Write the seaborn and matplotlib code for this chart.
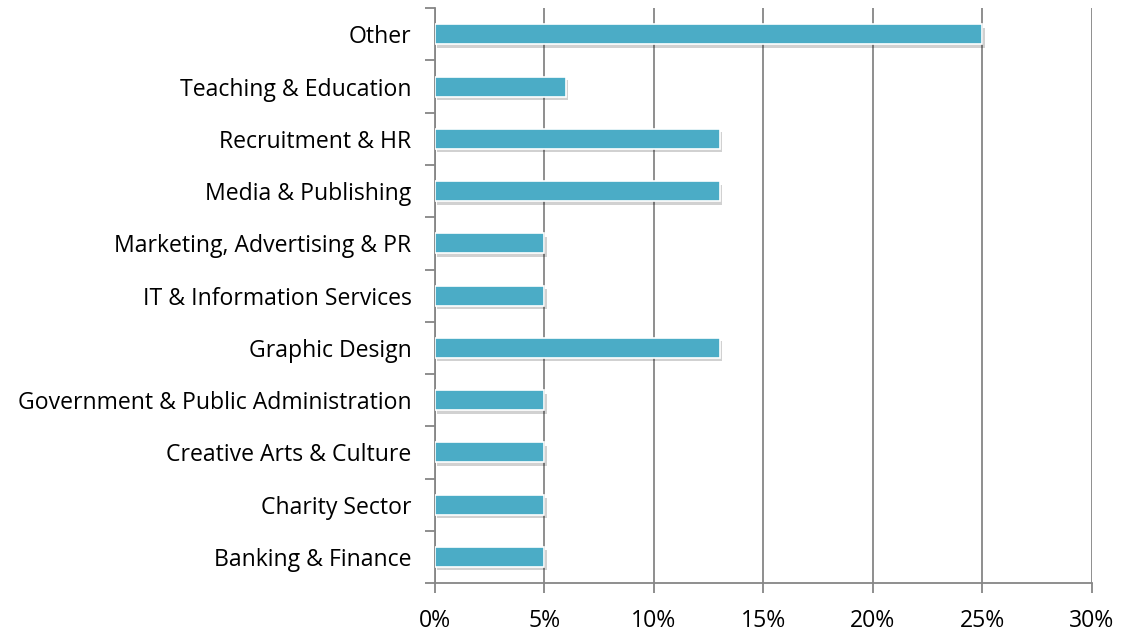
import matplotlib
matplotlib.use("Agg")
import matplotlib.pyplot as plt
import matplotlib.patheffects as pe
from matplotlib.ticker import FixedLocator, PercentFormatter
import seaborn as sns
import pandas as pd

categories = ["Other", "Teaching & Education", "Recruitment & HR", "Media & Publishing",
              "Marketing, Advertising & PR", "IT & Information Services", "Graphic Design",
              "Government & Public Administration", "Creative Arts & Culture",
              "Charity Sector", "Banking & Finance"]
values = [25, 6, 13, 13, 5, 5, 13, 5, 5, 5, 5]
x_ticks = [0, 5, 10, 15, 20, 25, 30]

df = pd.DataFrame({"sector": categories, "pct": values})

sns.set_theme(style="white")
plt.rcParams["font.family"] = ["Open Sans", "DejaVu Sans"]

fig = plt.figure(figsize=(11.24, 6.34), dpi=100)
ax = fig.add_axes([0.387, 0.0804, 0.9715 - 0.387, 0.987 - 0.0804])

sns.barplot(data=df, x="pct", y="sector", order=categories, orient="h",
            color="#4BACC6", saturation=1, width=0.38, edgecolor="white",
            linewidth=1.2, ax=ax, zorder=3)
for p in ax.patches:
    p.set_path_effects([pe.SimplePatchShadow(offset=(1.5, -2.5), alpha=0.18, shadow_rgbFace="black"),
                        pe.Normal()])

grid_c = "#868686"
ax.set_xlim(0, 30)
ax.set_ylim(len(categories) - 0.5, -0.5)
ax.xaxis.set_major_locator(FixedLocator(x_ticks))
ax.xaxis.set_major_formatter(PercentFormatter(decimals=0))
ax.grid(axis="x", color=grid_c, linewidth=1.3, zorder=0)
ax.grid(axis="y", visible=False)
ax.set_axisbelow(True)

for s in ["top", "right"]:
    ax.spines[s].set_visible(False)
for s in ["left", "bottom"]:
    ax.spines[s].set_color(grid_c)
    ax.spines[s].set_linewidth(1.3)

fs = 16.6
ax.set_xlabel("")
ax.set_ylabel("")
ax.tick_params(axis="x", which="major", length=7, width=1.3, color=grid_c,
               labelsize=fs, pad=12, direction="out", bottom=True)
ax.tick_params(axis="y", which="major", length=0, labelsize=fs, pad=17)
ax.yaxis.set_minor_locator(FixedLocator([i - 0.5 for i in range(len(categories) + 1)]))
ax.tick_params(axis="y", which="minor", length=7, width=1.3, color=grid_c,
               direction="out", left=True)
for lab in ax.get_xticklabels() + ax.get_yticklabels():
    lab.set_color("black")

fig.savefig("out.png", dpi=100)
